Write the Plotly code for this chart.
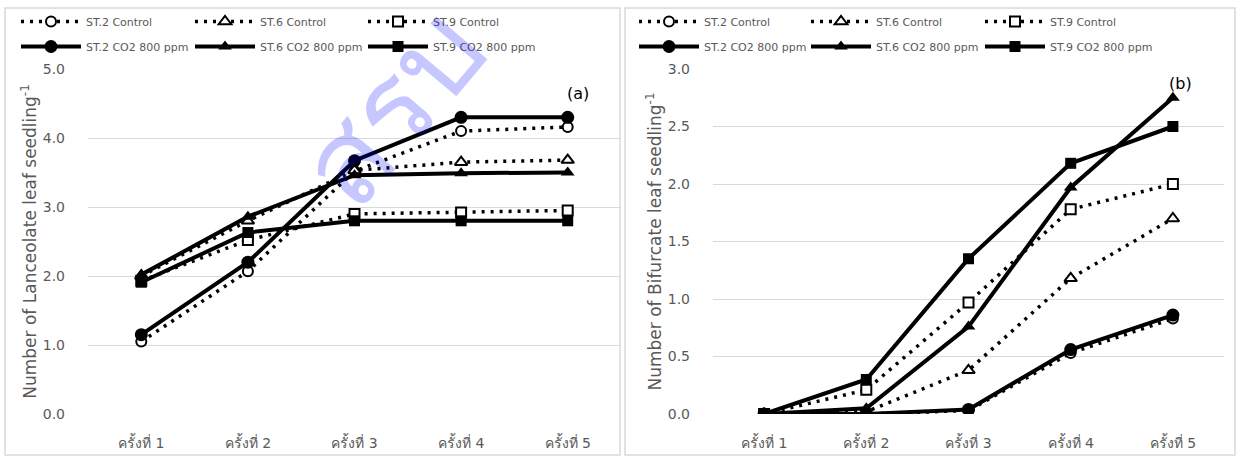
import plotly.graph_objects as go

categories = ["ครั้งที่ 1", "ครั้งที่ 2", "ครั้งที่ 3", "ครั้งที่ 4", "ครั้งที่ 5"]

# Panel (a): Lanceolate leaf
a_st2_control = [1.05, 2.07, 3.52, 4.10, 4.16]
a_st6_control = [2.00, 2.80, 3.53, 3.65, 3.68]
a_st9_control = [1.93, 2.52, 2.90, 2.92, 2.95]
a_st2_co2 = [1.15, 2.20, 3.67, 4.30, 4.30]
a_st6_co2 = [2.02, 2.86, 3.46, 3.49, 3.50]
a_st9_co2 = [1.91, 2.63, 2.80, 2.80, 2.80]

# Panel (b): Bifurcate leaf
b_st2_control = [0.00, 0.00, 0.03, 0.53, 0.83]
b_st6_control = [0.00, 0.02, 0.38, 1.18, 1.70]
b_st9_control = [0.00, 0.21, 0.97, 1.78, 2.00]
b_st2_co2 = [0.00, 0.00, 0.04, 0.56, 0.86]
b_st6_co2 = [0.00, 0.05, 0.76, 1.97, 2.75]
b_st9_co2 = [0.00, 0.30, 1.35, 2.18, 2.50]

series_names = ["ST.2 Control", "ST.6 Control", "ST.9 Control",
                "ST.2 CO2 800 ppm", "ST.6 CO2 800 ppm", "ST.9 CO2 800 ppm"]
y_titles = ["Number of Lanceolate leaf seedling<sup>-1</sup>",
            "Number of Bifurcate leaf seedling<sup>-1</sup>"]
panel_labels = ["(a)", "(b)"]
watermark = "สรบ"

GRAY = "#595959"
GRID = "#d9d9d9"
FONT = "Tahoma, 'DejaVu Sans', 'Noto Sans', sans-serif"

fig = go.Figure()

panels = [
    [a_st2_control, a_st6_control, a_st9_control, a_st2_co2, a_st6_co2, a_st9_co2],
    [b_st2_control, b_st6_control, b_st9_control, b_st2_co2, b_st6_co2, b_st9_co2],
]
symbols = ["circle", "triangle-up", "square"]
ctrl_sizes = [10, 11, 10]
co2_sizes = [13, 12, 11]

for p, data in enumerate(panels):
    xa = "x" if p == 0 else "x2"
    ya = "y" if p == 0 else "y2"
    for i in range(6):
        k = i % 3
        legname = "legend" if (p * 3 + k) == 0 else f"legend{p * 3 + k + 1}"
        control = i < 3
        fig.add_trace(go.Scatter(
            x=categories, y=data[i], name=series_names[i],
            xaxis=xa, yaxis=ya, mode="lines+markers",
            legend=legname, legendgroup=f"g{p}{i}",
            line=dict(color="black", width=3.5 if control else 4,
                      dash="3px,6px" if control else "solid"),
            marker=dict(symbol=symbols[k],
                        size=ctrl_sizes[k] if control else co2_sizes[k],
                        color="white" if control else "black",
                        line=dict(color="black", width=2 if control else 0)),
        ))

W, H = 1236, 457
leg_x_px = [16, 190, 363, 634, 806, 980]
legends = {}
for j, xp in enumerate(leg_x_px):
    key = "legend" if j == 0 else f"legend{j + 1}"
    legends[key] = dict(x=xp / W, xanchor="left", y=1 - 7 / H, yanchor="top",
                        orientation="v", tracegroupgap=6, itemwidth=60,
                        bgcolor="rgba(0,0,0,0)",
                        font=dict(family=FONT, size=11, color=GRAY))

axis_common = dict(
    showline=False, zeroline=False, automargin=False,
    tickfont=dict(family=FONT, size=14, color=GRAY),
)

fig.update_layout(
    width=W, height=H,
    margin=dict(l=0, r=0, t=0, b=0, autoexpand=False),
    paper_bgcolor="white", plot_bgcolor="white",
    showlegend=True,
    xaxis=dict(domain=[88 / W, 621 / W], anchor="y", type="category",
               range=[-0.5, 4.5], showgrid=False, ticklabelstandoff=19,
               **axis_common),
    xaxis2=dict(domain=[713 / W, 1224 / W], anchor="y2", type="category",
                range=[-0.5, 4.5], showgrid=False, ticklabelstandoff=19,
                **axis_common),
    yaxis=dict(domain=[1 - 414 / H, 1 - 69 / H], anchor="x", range=[0, 5],
               dtick=1, tickformat=".1f", gridcolor=GRID, gridwidth=1,
               ticklabelstandoff=22,
               title=dict(text=y_titles[0], standoff=1,
                          font=dict(family=FONT, size=17, color=GRAY)),
               **axis_common),
    yaxis2=dict(domain=[1 - 414 / H, 1 - 69 / H], anchor="x2", range=[0, 3],
                dtick=0.5, tickformat=".1f", gridcolor=GRID, gridwidth=1,
                ticklabelstandoff=22,
                title=dict(text=y_titles[1], standoff=1,
                           font=dict(family=FONT, size=17, color=GRAY)),
                **axis_common),
    **legends,
)

# panel borders
fig.add_shape(type="rect", xref="paper", yref="paper",
              x0=5 / W, x1=620 / W, y0=2 / H, y1=1 - 8 / H,
              line=dict(color=GRID, width=1.5), layer="below")
fig.add_shape(type="rect", xref="paper", yref="paper",
              x0=625 / W, x1=1235 / W, y0=2 / H, y1=1 - 8 / H,
              line=dict(color=GRID, width=1.5), layer="below")

# panel labels
fig.add_annotation(text=panel_labels[0], xref="x", yref="y", x=4, y=4.65,
                   xanchor="center", yanchor="middle", showarrow=False,
                   xshift=10, font=dict(family=FONT, size=16, color="black"))
fig.add_annotation(text=panel_labels[1], xref="x2", yref="y2", x=4, y=2.87,
                   xanchor="center", yanchor="middle", showarrow=False,
                   xshift=8, font=dict(family=FONT, size=16, color="black"))

# watermark
fig.add_annotation(text=watermark, xref="paper", yref="paper",
                   x=392 / W, y=1 - 108 / H, xanchor="center", yanchor="middle",
                   showarrow=False, textangle=-50,
                   font=dict(family=FONT, size=120, color="rgba(0,0,255,0.22)"))

fig.write_html("out.html", config={"displayModeBar": False},
               post_script="document.body.style.margin='0';document.body.style.overflow='hidden';")
